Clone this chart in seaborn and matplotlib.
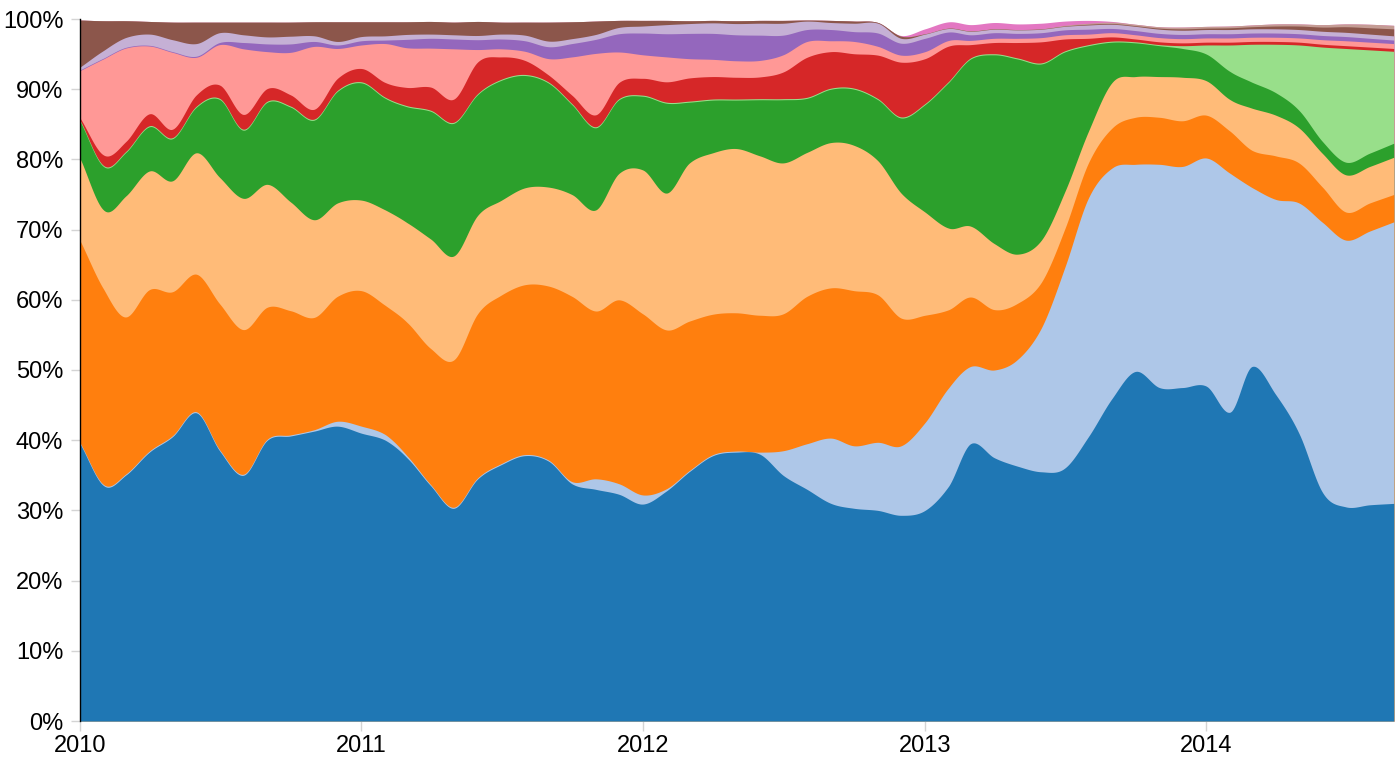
import numpy as np
import pandas as pd
import matplotlib
matplotlib.use("Agg")
import matplotlib.pyplot as plt
import matplotlib.dates as mdates
import seaborn as sns

# ---------------- data (share of total, %, monthly) ----------------
months = pd.date_range("2010-01-01", periods=57, freq="MS")

s01 = [39.5, 33.5, 35, 38.3, 40.5, 43.9, 38.5, 35, 40, 40.6,
       41.3, 42, 41, 40, 37.5, 33.5, 30.3, 34.5, 36.5, 37.8,
       37, 33.8, 33, 32.3, 30.9, 32.8, 35.5, 37.8, 38.3, 38,
       35, 33, 31, 30.3, 30, 29.3, 30, 33.5, 39.5, 37.5,
       36.3, 35.5, 36, 40.5, 46, 49.8, 47.5, 47.5, 47.7, 44,
       50.5, 46.5, 41, 32.5, 30.5, 30.8, 31]
s02 = [0.15, 0.15, 0.15, 0.15, 0.15, 0.15, 0.15, 0.15, 0.15, 0.15,
       0.2, 0.7, 1.0, 0.8, 0.3, 0.15, 0.15, 0.15, 0.15, 0.15,
       0.15, 0.3, 1.5, 1.5, 1.3, 0.3, 0.15, 0.15, 0.15, 0.3,
       3.5, 6.5, 9.3, 8.9, 9.7, 9.9, 12.5, 14, 11, 12.5,
       15.2, 20.5, 28.5, 34, 32.8, 29.5, 31.8, 31.5, 32.5, 34,
       25.5, 27.8, 32.8, 38.5, 38, 39, 40.1]
s03 = [28.8, 27.8, 22.4, 23, 20.5, 19.6, 20.8, 20.6, 18.8, 17.7,
       16, 17.8, 19.3, 18.4, 19, 19.4, 21, 23.4, 24, 24.2,
       24.8, 26.4, 23.9, 26.2, 25.8, 22.6, 21.3, 20, 19.7, 19.5,
       19.5, 21, 21.4, 22.1, 21, 18.2, 15.3, 11.1, 9.9, 8.6,
       8, 6.5, 5.5, 5, 5.7, 6.7, 6.7, 6.5, 6.1, 6,
       5.3, 6.2, 5.7, 5, 4, 4, 3.9]
s04 = [11.7, 11.3, 17.2, 16.9, 15.8, 17.3, 18, 18.7, 17.5, 15.5,
       13.9, 13.3, 12.9, 13.6, 14.2, 15.6, 14.8, 14, 13.5, 13.8,
       14.1, 14.5, 14.4, 18, 20.5, 19.5, 22.5, 23, 23.4, 22.7,
       21.5, 20.5, 20.7, 20.7, 19.1, 17.8, 14.7, 11.6, 10.1, 9.4,
       7, 6, 5.3, 4.5, 6.5, 5.8, 5.8, 6.2, 4.9, 4.5,
       6, 5.8, 5, 4.8, 5.3, 5.2, 5.3]
s05 = [5.3, 6.2, 6.2, 6.3, 6, 6.5, 11.1, 9.7, 11.7, 13.5,
       14.2, 15.9, 16.7, 15.9, 16.5, 18.2, 18.9, 17.2, 17.1, 16,
       14.8, 12.8, 11.7, 10.5, 10.5, 12.8, 8.7, 7.5, 6.9, 8,
       9, 7.7, 7.6, 8, 8.7, 10.7, 15.3, 20.8, 23.8, 26.9,
       27.8, 25.1, 20, 12.2, 5.7, 4.8, 4.4, 4.1, 3.8, 4,
       3.7, 3.2, 2.5, 1.7, 1.8, 1.9, 2]
s06 = [0.15] * 47 + [0.4, 1.3, 3.8, 5.4, 6.9, 9.3, 13.5, 16.2, 14.7, 13.1]
s07 = [0.3, 1.5, 1.4, 1.7, 1.2, 1.6, 1.9, 2.1, 1.8, 1.6,
       1.4, 1.7, 1.9, 2.1, 2.6, 3.3, 3.3, 4.5, 3.2, 2.0,
       1.0, 1.2, 1.7, 2.3, 2.4, 2.9, 3.3, 3.2, 3.1, 3.1,
       3.8, 5.7, 5.2, 4.9, 6.2, 7.8, 6.4, 5.0, 1.9, 1.6,
       2.2, 3.0, 1.7, 0.9, 0.6, 0.4, 0.4, 0.4, 0.4, 0.4,
       0.4, 0.4, 0.4, 0.4, 0.4, 0.4, 0.4]
s08 = [6.75, 13.75, 13.35, 9.65, 10.95, 5.35, 5.75, 9.35, 5.25, 6.05,
       8.95, 4.25, 3.35, 5.55, 5.65, 5.55, 7.15, 1.75, 1.15, 1.3,
       2.35, 5.45, 8.75, 4.35, 3.35, 3.55, 2.75, 2.45, 2.35, 2.35,
       2.45, 2.25, 1.55, 1.75, 1.25, 1.0, 1.0, 0.8, 0.6, 0.6,
       0.6, 0.6, 0.6, 0.6, 0.6, 0.6, 0.6, 0.6, 0.6, 0.6,
       0.6, 0.6, 0.6, 0.65, 0.7, 0.7, 0.7]
s09 = [0.1, 0.1, 0.1, 0.1, 0.1, 0.15, 0.3, 0.9, 1.1, 1.2,
       0.7, 0.5, 0.6, 0.5, 1.2, 1.4, 1.4, 1.4, 1.4, 1.5,
       1.7, 1.9, 2.0, 2.6, 3.1, 3.3, 3.6, 3.7, 3.7, 3.6,
       2.8, 1.7, 1.6, 1.4, 1.9, 1.7, 1.9, 1.2, 0.8, 0.8,
       0.7, 0.7, 0.7, 0.7, 0.6, 0.6, 0.6, 0.6, 0.6, 0.6,
       0.6, 0.6, 0.6, 0.6, 0.6, 0.55, 0.5]
s10 = [0.4, 1.1, 1.4, 1.6, 1.7, 1.8, 1.4, 1.1, 1.0, 1.1,
       0.8, 0.5, 0.6, 0.6, 0.7, 0.6, 0.6, 0.6, 0.7, 0.8,
       0.8, 0.7, 0.7, 0.9, 1.0, 1.3, 1.4, 1.5, 1.6, 1.7,
       1.7, 1.2, 1.0, 1.2, 1.4, 0.7, 0.6, 0.5, 0.5, 0.5,
       0.5, 0.5, 0.5, 0.6, 0.6, 0.6, 0.6, 0.6, 0.6, 0.6,
       0.6, 0.6, 0.6, 0.6, 0.6, 0.6, 0.6]
s11 = [6.7, 4.2, 2.4, 1.8, 2.5, 3.05, 1.5, 1.8, 2.1, 2.0,
       2.0, 2.8, 2.1, 2.0, 1.8, 1.8, 1.8, 2.0, 1.7, 1.85,
       2.7, 2.4, 1.9, 1.0, 0.8, 0.6, 0.4, 0.35, 0.4, 0.4,
       0.4, 0.15, 0.3, 0.3, 0.1, 0.3, 0.05, 0.05, 0.05, 0.05,
       0.05, 0.05, 0.05, 0.1, 0.1, 0.1, 0.15, 0.2, 0.2, 0.25,
       0.3, 0.4, 0.5, 0.6, 0.8, 0.9, 1.0]
s12 = [0.0] * 42 + [0.1, 0.15, 0.2, 0.2, 0.2, 0.25, 0.25, 0.25,
                    0.25, 0.3, 0.3, 0.35, 0.4, 0.5, 0.5]
s13 = [0.0] * 35 + [0.1, 0.7, 0.9, 0.9, 0.9, 0.8, 0.8, 0.6, 0.4, 0.1] + [0.0] * 12

series = [s01, s02, s03, s04, s05, s06, s07, s08, s09, s10, s11, s12, s13]
year_ticks = ["2010", "2011", "2012", "2013", "2014"]
pct_ticks = list(range(0, 101, 10))


# ---------------- smoothing helper (interpolating spline) ----------------
def catmull_rom(y, samples=16):
    y = np.asarray(y, float)
    p = np.concatenate([[2 * y[0] - y[1]], y, [2 * y[-1] - y[-2]]])
    t = np.linspace(0, 1, samples, endpoint=False)[:, None]
    p0, p1, p2, p3 = p[:-3], p[1:-2], p[2:-1], p[3:]
    out = 0.5 * (2 * p1 + (-p0 + p2) * t
                 + (2 * p0 - 5 * p1 + 4 * p2 - p3) * t ** 2
                 + (-p0 + 3 * p1 - 3 * p2 + p3) * t ** 3)
    return np.append(out.T.reshape(-1), y[-1])


SAMPLES = 16
xnum = mdates.date2num(months.to_pydatetime())
n = len(xnum)
idx = np.arange((n - 1) * SAMPLES + 1) / SAMPLES
xs = np.interp(idx, np.arange(n), xnum)

vals = np.array([np.clip(catmull_rom(s, SAMPLES), 0, None) for s in series])
cum = np.cumsum(vals, axis=0)

# ---------------- plotting ----------------
sns.set_theme(style="white")
plt.rcParams["font.family"] = ["Liberation Sans", "DejaVu Sans"]
palette = sns.color_palette("tab20", 20)

fig = plt.figure(figsize=(14, 7.63), dpi=100)
ax = fig.add_axes([80 / 1400, 42 / 763, 1313.7 / 1400, 702 / 763])

for k in range(len(series) - 1, -1, -1):
    ax.fill_between(xs, 0, cum[k], color=palette[k], linewidth=0, zorder=1)

ax.set_xlim(xnum[0], xnum[-1])
ax.set_ylim(0, 100)

ax.set_yticks(pct_ticks)
ax.set_yticklabels([f"{v}%" for v in pct_ticks])
year_pos = mdates.date2num([pd.Timestamp(f"{y}-01-01").to_pydatetime() for y in year_ticks])
ax.set_xticks(year_pos)
ax.set_xticklabels(year_ticks)

for side in ["top", "right", "bottom"]:
    ax.spines[side].set_visible(False)
ax.spines["left"].set_color("black")
ax.spines["left"].set_linewidth(1.0)
ax.spines["left"].set_zorder(5)

ax.tick_params(axis="y", direction="out", length=6.5, width=1, color="#d4d4d4",
               pad=5.5, labelsize=17, labelcolor="black", left=True)
ax.tick_params(axis="x", direction="out", length=7, width=1, color="#d4d4d4",
               pad=3, labelsize=17, labelcolor="black", bottom=True)
yt = ax.yaxis.get_major_ticks()
yt[0].tick1line.set_color("black")
yt[-1].tick1line.set_color("black")
ax.grid(False)

fig.savefig("out.png", dpi=100, facecolor="white")
